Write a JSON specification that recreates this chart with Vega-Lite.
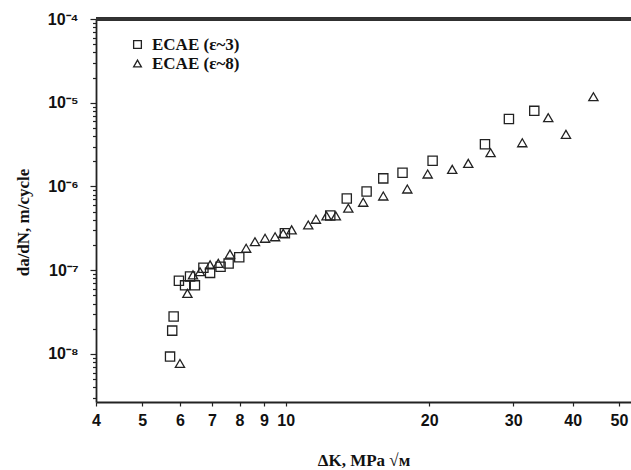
{
  "$schema": "https://vega.github.io/schema/vega-lite/v6.json",
  "width": 535,
  "height": 383,
  "autosize": {"type": "none"},
  "padding": {"left": 96, "top": 19, "right": 0, "bottom": 68},
  "background": "white",
  "config": {"view": {"stroke": null}},
  "data": {"values": [
    {"series": "ECAE (ε~3)", "K": 5.72, "dadN": 9.3e-9},
    {"series": "ECAE (ε~3)", "K": 5.78, "dadN": 1.9e-8},
    {"series": "ECAE (ε~3)", "K": 5.82, "dadN": 2.8e-8},
    {"series": "ECAE (ε~3)", "K": 5.97, "dadN": 7.5e-8},
    {"series": "ECAE (ε~3)", "K": 6.15, "dadN": 6.6e-8},
    {"series": "ECAE (ε~3)", "K": 6.45, "dadN": 6.6e-8},
    {"series": "ECAE (ε~3)", "K": 6.3, "dadN": 8.4e-8},
    {"series": "ECAE (ε~3)", "K": 6.72, "dadN": 1.07e-7},
    {"series": "ECAE (ε~3)", "K": 6.94, "dadN": 9.3e-8},
    {"series": "ECAE (ε~3)", "K": 7.3, "dadN": 1.1e-7},
    {"series": "ECAE (ε~3)", "K": 7.59, "dadN": 1.2e-7},
    {"series": "ECAE (ε~3)", "K": 7.99, "dadN": 1.43e-7},
    {"series": "ECAE (ε~3)", "K": 9.96, "dadN": 2.76e-7},
    {"series": "ECAE (ε~3)", "K": 12.4, "dadN": 4.5e-7},
    {"series": "ECAE (ε~3)", "K": 13.43, "dadN": 7.2e-7},
    {"series": "ECAE (ε~3)", "K": 14.78, "dadN": 8.7e-7},
    {"series": "ECAE (ε~3)", "K": 16.02, "dadN": 1.25e-6},
    {"series": "ECAE (ε~3)", "K": 17.58, "dadN": 1.46e-6},
    {"series": "ECAE (ε~3)", "K": 20.33, "dadN": 2.03e-6},
    {"series": "ECAE (ε~3)", "K": 26.18, "dadN": 3.2e-6},
    {"series": "ECAE (ε~3)", "K": 29.39, "dadN": 6.4e-6},
    {"series": "ECAE (ε~3)", "K": 33.22, "dadN": 8.0e-6},
    {"series": "ECAE (ε~8)", "K": 6.0, "dadN": 7.7e-9},
    {"series": "ECAE (ε~8)", "K": 6.22, "dadN": 5.3e-8},
    {"series": "ECAE (ε~8)", "K": 6.39, "dadN": 8.8e-8},
    {"series": "ECAE (ε~8)", "K": 6.61, "dadN": 9.6e-8},
    {"series": "ECAE (ε~8)", "K": 6.94, "dadN": 1.16e-7},
    {"series": "ECAE (ε~8)", "K": 7.22, "dadN": 1.21e-7},
    {"series": "ECAE (ε~8)", "K": 7.64, "dadN": 1.56e-7},
    {"series": "ECAE (ε~8)", "K": 8.26, "dadN": 1.83e-7},
    {"series": "ECAE (ε~8)", "K": 8.62, "dadN": 2.19e-7},
    {"series": "ECAE (ε~8)", "K": 9.05, "dadN": 2.41e-7},
    {"series": "ECAE (ε~8)", "K": 9.5, "dadN": 2.51e-7},
    {"series": "ECAE (ε~8)", "K": 9.88, "dadN": 2.76e-7},
    {"series": "ECAE (ε~8)", "K": 10.29, "dadN": 3.03e-7},
    {"series": "ECAE (ε~8)", "K": 11.15, "dadN": 3.47e-7},
    {"series": "ECAE (ε~8)", "K": 11.57, "dadN": 4.06e-7},
    {"series": "ECAE (ε~8)", "K": 12.18, "dadN": 4.45e-7},
    {"series": "ECAE (ε~8)", "K": 12.74, "dadN": 4.45e-7},
    {"series": "ECAE (ε~8)", "K": 13.53, "dadN": 5.5e-7},
    {"series": "ECAE (ε~8)", "K": 14.54, "dadN": 6.48e-7},
    {"series": "ECAE (ε~8)", "K": 16.02, "dadN": 7.7e-7},
    {"series": "ECAE (ε~8)", "K": 17.99, "dadN": 9.33e-7},
    {"series": "ECAE (ε~8)", "K": 19.85, "dadN": 1.41e-6},
    {"series": "ECAE (ε~8)", "K": 22.35, "dadN": 1.6e-6},
    {"series": "ECAE (ε~8)", "K": 24.15, "dadN": 1.89e-6},
    {"series": "ECAE (ε~8)", "K": 26.9, "dadN": 2.53e-6},
    {"series": "ECAE (ε~8)", "K": 31.35, "dadN": 3.33e-6},
    {"series": "ECAE (ε~8)", "K": 35.54, "dadN": 6.63e-6},
    {"series": "ECAE (ε~8)", "K": 38.71, "dadN": 4.2e-6},
    {"series": "ECAE (ε~8)", "K": 44.2, "dadN": 1.18e-5}
  ]},
  "layer": [
    {
      "mark": {"type": "rule", "color": "#333", "strokeWidth": 2.5},
      "encoding": {"y": {"datum": 1e-4, "type": "quantitative", "scale": {"type": "log", "domain": [2.67e-9, 1e-4], "nice": false, "zero": false}}}
    },
    {
      "mark": {"type": "point", "filled": false, "strokeWidth": 1.3, "size": 85, "color": "#222", "opacity": 1},
      "encoding": {
        "x": {
          "field": "K", "type": "quantitative",
          "scale": {"type": "log", "domain": [4, 53], "nice": false, "zero": false},
          "axis": {
            "title": "ΔK, MPa √м",
            "values": [4, 5, 6, 7, 8, 9, 10, 20, 30, 40, 50],
            "format": "d",
            "grid": false,
            "domainColor": "#222", "domainWidth": 1.8,
            "tickColor": "#222", "tickSize": 4, "tickWidth": 1.2,
            "labelFont": "Liberation Sans", "labelFontWeight": "bold", "labelFontSize": 16, "labelColor": "#111",
            "labelPadding": 6, "labelFlush": false, "labelOverlap": false,
            "titleFont": "Liberation Serif", "titleFontWeight": "bold", "titleFontSize": 17, "titleColor": "#111",
            "titleBaseline": "alphabetic", "titleY": 63
          }
        },
        "y": {
          "field": "dadN", "type": "quantitative",
          "scale": {"type": "log", "domain": [2.67e-9, 1e-4], "nice": false, "zero": false},
          "axis": {
            "title": "da/dN, m/cycle",
            "values": [3e-9,4e-9,5e-9,6e-9,7e-9,8e-9,9e-9,1e-8,2e-8,3e-8,4e-8,5e-8,6e-8,7e-8,8e-8,9e-8,1e-7,2e-7,3e-7,4e-7,5e-7,6e-7,7e-7,8e-7,9e-7,1e-6,2e-6,3e-6,4e-6,5e-6,6e-6,7e-6,8e-6,9e-6,1e-5,2e-5,3e-5,4e-5,5e-5,6e-5,7e-5,8e-5,9e-5,1e-4],
            "labelExpr": "abs(log(datum.value)/LN10 - round(log(datum.value)/LN10)) < 0.001 ? '10⁻' + ['⁰','¹','²','³','⁴','⁵','⁶','⁷','⁸','⁹'][-round(log(datum.value)/LN10)] : ''",
            "grid": false,
            "domainColor": "#222", "domainWidth": 1.8,
            "tickColor": "#222", "tickWidth": 1.2,
            "tickSize": {"condition": {"test": "abs(log(datum.value)/LN10 - round(log(datum.value)/LN10)) < 0.001", "value": 6}, "value": 3.5},
            "labelFont": "Liberation Sans", "labelFontWeight": "bold", "labelFontSize": 16, "labelColor": "#111",
            "labelPadding": 12, "labelOverlap": false, "labelFlush": false,
            "titleFont": "Liberation Serif", "titleFontWeight": "bold", "titleFontSize": 17, "titleColor": "#111",
            "titleX": -73, "titleY": 203, "titleBaseline": "middle"
          }
        },
        "shape": {
          "field": "series", "type": "nominal",
          "scale": {"domain": ["ECAE (ε~3)", "ECAE (ε~8)"], "range": ["square", "triangle-up"]},
          "legend": {
            "title": null, "orient": "none", "legendX": 33, "legendY": 17,
            "labelFont": "Liberation Serif", "labelFontWeight": "bold", "labelFontSize": 17, "labelColor": "#111",
            "symbolSize": 60, "symbolStrokeWidth": 1.3, "symbolStrokeColor": "#222", "symbolFillColor": "transparent",
            "rowPadding": 1, "labelOffset": 6
          }
        }
      }
    }
  ]
}
